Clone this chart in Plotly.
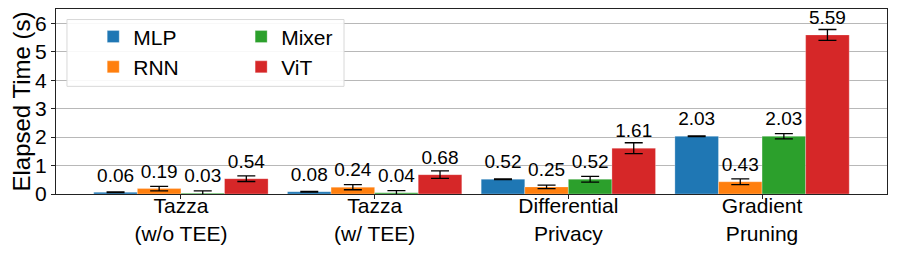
import plotly.graph_objects as go

categories = ["Tazza<br>(w/o TEE)", "Tazza<br>(w/ TEE)", "Differential<br>Privacy", "Gradient<br>Pruning"]
models = ["MLP", "RNN", "Mixer", "ViT"]
mlp = [0.06, 0.08, 0.52, 2.03]
mlp_err = [0.01, 0.01, 0.01, 0.01]
rnn = [0.19, 0.24, 0.25, 0.43]
rnn_err = [0.08, 0.09, 0.06, 0.10]
mixer = [0.03, 0.04, 0.52, 2.03]
mixer_err = [0.08, 0.08, 0.10, 0.09]
vit = [0.54, 0.68, 1.61, 5.59]
vit_err = [0.10, 0.13, 0.19, 0.19]
y_ticks = [0, 1, 2, 3, 4, 5, 6]

colors = ["#1f77b4", "#ff7f0e", "#2ca02c", "#d62728"]
series = [mlp, rnn, mixer, vit]
errors = [mlp_err, rnn_err, mixer_err, vit_err]
legend_ids = ["legend", "legend", "legend2", "legend2"]

FONT = "Liberation Sans, Arial, Helvetica, sans-serif"

fig = go.Figure()
for name, vals, errs, col, lg in zip(models, series, errors, colors, legend_ids):
    fig.add_trace(go.Bar(
        name=name, x=categories, y=vals,
        marker=dict(color=col, line=dict(color="rgba(255,255,255,0.35)", width=0.8)),
        error_y=dict(type="data", array=errs, visible=True, color="black", thickness=1.3, width=9),
        legend=lg,
    ))
# value labels, grouped like the bars
for name, vals in zip(models, series):
    fig.add_trace(go.Scatter(
        x=categories, y=vals, mode="markers+text",
        text=[f"{v:.2f}" for v in vals], textposition="top center",
        textfont=dict(size=19, color="black", family=FONT),
        marker=dict(size=8, opacity=0), showlegend=False, hoverinfo="skip",
        cliponaxis=False,
    ))

# page body has an 8px margin, so the figure is sized to fit inside it
fig.update_layout(
    width=881, height=240,
    margin=dict(l=48, r=2, t=1, b=54),
    plot_bgcolor="white", paper_bgcolor="white",
    barmode="group", bargap=0.1, bargroupgap=0,
    scattermode="group", scattergap=0.1,
    font=dict(family=FONT, size=21, color="black"),
    legend=dict(x=0.0448, y=0.96, xanchor="left", yanchor="top", orientation="v",
                bgcolor="rgba(0,0,0,0)", borderwidth=0, font=dict(size=21),
                tracegroupgap=0),
    legend2=dict(x=0.2228, y=0.96, xanchor="left", yanchor="top", orientation="v",
                 bgcolor="rgba(0,0,0,0)", borderwidth=0, font=dict(size=21),
                 tracegroupgap=0),
    shapes=[dict(type="rect", xref="paper", yref="paper",
                 x0=0.0132, x1=0.3466, y0=0.582, y1=0.943,
                 fillcolor="rgba(255,255,255,0.9)", line=dict(color="#d8d8d8", width=1),
                 layer="above")],
)
fig.update_xaxes(type="category", range=[-0.645, 3.645], automargin=False,
                 showline=True, mirror=True, linecolor="#222", linewidth=1,
                 ticks="outside", ticklen=4, tickcolor="#222", ticklabelstandoff=-11,
                 tickfont=dict(size=21), showgrid=False)
fig.update_yaxes(range=[0, 6.5], tickvals=y_ticks, automargin=False,
                 showline=True, mirror=True, linecolor="#222", linewidth=1,
                 ticks="outside", ticklen=4, tickcolor="#222",
                 showgrid=True, gridcolor="#b8b8b8", gridwidth=1, zeroline=False,
                 tickfont=dict(size=21),
                 title=dict(text="Elapsed Time (s)", font=dict(size=24), standoff=4))

fig.write_html("out.html")
